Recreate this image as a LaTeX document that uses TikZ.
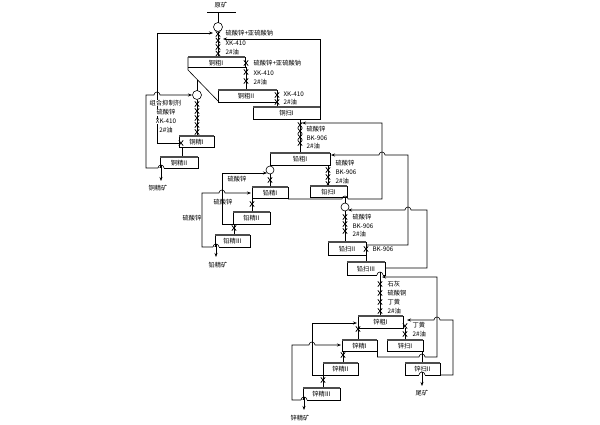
\documentclass[tikz,border=0pt]{standalone}
\usepackage{fontspec}
\newfontfamily\cjk{Noto Sans CJK SC}
\usetikzlibrary{arrows.meta}
\tikzset{
 ln/.style={line width=0.6pt},
 arr/.style={ln,-{Stealth[length=4pt,width=3pt]}},
 bar/.style={line width=1.8pt,black!70},
 lbl/.style={font=\cjk\fontsize{6.3}{7}\selectfont,inner sep=0.4pt},
 wl/.style={lbl,fill=white},
 xm/.pic={\draw[line width=0.75pt] (-2.2,-2.6)--(2.2,2.6) (-2.2,2.6)--(2.2,-2.6);},
}
\newcommand\fcell[6]{%
 \draw[ln] (#2,#3) rectangle (#4,#5);
 \draw[bar] (#2,#3) -- (#4,#3);
 \node[lbl] (#1) at ({(#2+#4)/2},{(#3+#5)/2+0.5}) {#6};}
\begin{document}
\begin{tikzpicture}[x=1pt,y=-1pt]
\useasboundingbox (0,0) rectangle (600,424);
% ---------- copper -------------
\node[lbl] (ore) at (221,5) {原矿};
\draw[ln] (207,12) -- (236,12);
\draw[ln] (218,12) -- (218,22.5);
\draw[ln] (218,27) circle (4.5);
\draw[ln] (218,31.5) -- (218,57);
\foreach \y in {34,40.5,47,53.5} \pic at (218,\y) {xm};
\node[lbl,anchor=west] (r1a) at (225,33) {硫酸锌+亚硫酸钠};
\node[lbl,anchor=west] (r1b) at (225,43) {XK-410};
\node[lbl,anchor=west] (r1c) at (225,52) {2\#油};
\draw[arr] (157,143) -- (157,33) -- (213,33);
\draw[arr] (320,107) -- (320,39) -- (223,39);
% Cu rougher I
\draw[ln] (188,57) -- (188,70) -- (219,102);
\draw[ln] (188,67) -- (245,67) -- (245,57);
\draw[bar] (188,57) -- (245,57);
\node[lbl] (cuR1) at (216,63) {铜粗I};
\draw[ln] (246,67) -- (246,90);
\foreach \y in {63,72,81} \pic at (246,\y) {xm};
\node[lbl,anchor=west] (r2a) at (253,63) {硫酸锌+亚硫酸钠};
\node[lbl,anchor=west] (r2b) at (253,73) {XK-410};
\node[lbl,anchor=west] (r2c) at (253,82) {2\#油};
% Cu rougher II
\draw[ln] (218,90) -- (218,102) -- (277,102) -- (277,90);
\draw[bar] (218,90) -- (277,90);
\node[lbl] (cuR2) at (246,96) {铜粗II};
\draw[ln] (277,102) -- (277,107);
\foreach \y in {95,102} \pic at (277,\y) {xm};
\node[lbl,anchor=west] (r3a) at (283,94) {XK-410};
\node[lbl,anchor=west] (r3b) at (283,102) {2\#油};
% Cu scavenger I
\fcell{cuS1}{253}{107}{320}{119}{铜扫I}
% Cu cleaners
\draw[ln] (197,80) -- (197,90.5);
\draw[ln] (197,95) circle (4.5);
\draw[arr] (160,168) -- (146,168) -- (146,95) -- (154,95) arc[start angle=180,end angle=360,radius=3] -- (192,95);
\draw[ln] (197,99.5) -- (197,136);
\foreach \y in {104,111,118,125,132} \pic at (197,\y) {xm};
\node[wl,anchor=west] (r4a) at (149,103) {组合抑制剂};
\node[wl] (r4b) at (166,112.5) {硫酸锌};
\node[wl] (r4c) at (166,121.5) {XK-410};
\node[wl] (r4d) at (166,130.5) {2\#油};
\draw[ln] (157,143) -- (179,143);
\fcell{cuC1}{179}{136}{214}{147}{铜精I}
\pic at (181,143) {xm};
\draw[ln] (182,147) -- (182,157);
\fcell{cuC2}{160}{157}{198}{168}{铜精II}
\draw[ln,white,line width=1pt] (158,168) -- (164,168);
\draw[ln] (158,168) arc[start angle=180,end angle=360,radius=3];
\draw[arr] (161,165) -- (161,181);
\node[lbl] (cuconc) at (158,188) {铜精矿};
% ---------- lead -------------
\draw[ln] (300,119) -- (300,153);
\foreach \y in {125,131,137,143} \pic at (300,\y) {xm};
\node[lbl,anchor=west] (p1a) at (306,129) {硫酸锌};
\node[lbl,anchor=west] (p1b) at (306,138) {BK-906};
\node[lbl,anchor=west] (p1c) at (306,146) {2\#油};
\fcell{pbR1}{270}{153}{330}{165}{铅粗I}
\draw[ln] (270,165) -- (270,166);
\draw[ln] (270,170) circle (4);
\draw[ln] (270,174) -- (270,187);
\pic at (270,180) {xm};
\draw[ln] (328,165) -- (328,186);
\foreach \y in {170,177,184} \pic at (328,\y) {xm};
\node[lbl,anchor=west] (p2a) at (335,163) {硫酸锌};
\node[lbl,anchor=west] (p2b) at (335,172) {BK-906};
\node[lbl,anchor=west] (p2c) at (335,181) {2\#油};
\fcell{pbC1}{252}{187}{288}{198}{铅精I}
\fcell{pbS1}{310}{186}{347}{197}{铅扫I}
\draw[arr] (288,199) -- (342,199) arc[start angle=180,end angle=360,radius=3] -- (382,199) -- (382,123) -- (302,123);
\draw[ln] (345,197) -- (345,203);
\draw[ln] (345,207) circle (4);
\draw[ln] (345,211) -- (345,242);
\foreach \y in {217,224,231} \pic at (345,\y) {xm};
\node[lbl,anchor=west] (p3a) at (352,217) {硫酸锌};
\node[lbl,anchor=west] (p3b) at (352,226) {BK-906};
\node[lbl,anchor=west] (p3c) at (352,234) {2\#油};
\draw[arr] (366,245) -- (408,245) -- (408,155) -- (385,155) arc[start angle=0,end angle=-180,radius=3] -- (331,155);
\fcell{pbS2}{328}{242}{366}{255}{铅扫II}
\pic at (366,249) {xm};
\node[lbl,anchor=west] (p4a) at (372,249) {BK-906};
\draw[ln] (366,249) -- (366,262);
\draw[arr] (385,268) -- (427,268) -- (427,210) -- (411,210) arc[start angle=0,end angle=-180,radius=3] -- (348,210);
\fcell{pbS3}{347}{262}{385}{275}{铅扫III}
% lead cleaners
\draw[arr] (233,224) -- (222,224) -- (222,173) -- (267,173);
\node[lbl] (p5) at (237,179) {硫酸锌};
\draw[ln] (252,198) -- (252,212);
\pic at (252,204) {xm};
\fcell{pbC2}{233}{212}{270}{224}{铅精II}
\draw[arr] (215,247) -- (202,247) -- (202,193) -- (219,193) arc[start angle=180,end angle=360,radius=3] -- (251,193);
\node[lbl] (p6) at (223,202) {硫酸锌};
\node[lbl] (p7) at (192,218) {硫酸锌};
\draw[ln] (234,224) -- (234,235);
\pic at (234,228) {xm};
\fcell{pbC3}{215}{235}{250}{247}{铅精III}
\draw[ln,white,line width=1pt] (213,247) -- (219,247);
\draw[ln] (213,247) arc[start angle=180,end angle=360,radius=3];
\draw[arr] (216,244) -- (216,257);
\node[lbl] (pbconc) at (218,265) {铅精矿};
% ---------- zinc -------------
\draw[ln,white,line width=1pt] (377,275) -- (383,275);
\draw[ln] (377,275) arc[start angle=180,end angle=360,radius=3];
\draw[ln] (380,272) -- (380,316);
\foreach \y in {284,293,302,311} \pic at (380,\y) {xm};
\node[lbl,anchor=west] (z1a) at (387,284) {石灰};
\node[lbl,anchor=west] (z1b) at (387,293) {硫酸铜};
\node[lbl,anchor=west] (z1c) at (387,302) {丁黄};
\node[lbl,anchor=west] (z1d) at (387,311) {2\#油};
\fcell{znR1}{358}{316}{403}{328}{锌粗I}
\draw[arr] (377,357) -- (419,357) arc[start angle=180,end angle=360,radius=3] -- (437,357) -- (437,277) -- (382,277);
\draw[ln] (405,328) -- (405,340);
\foreach \y in {326,334} \pic at (405,\y) {xm};
\node[lbl,anchor=west] (z2a) at (412,325) {丁黄};
\node[lbl,anchor=west] (z2b) at (412,334) {2\#油};
\draw[arr] (440,375) -- (453,375) -- (453,320) -- (440,320) arc[start angle=0,end angle=-180,radius=3] -- (407,320);
\fcell{znS1}{387}{340}{423}{351}{锌扫I}
\draw[ln] (422,351) -- (422,363);
\fcell{znS2}{405}{363}{440}{375}{锌扫II}
\draw[ln,white,line width=1pt] (419,375) -- (425,375);
\draw[ln] (419,375) arc[start angle=180,end angle=360,radius=3];
\draw[arr] (422,372) -- (422,386);
\node[lbl] (tail) at (422,393) {尾矿};
% zinc cleaners
\draw[ln] (358,328) -- (358,340);
\pic at (358,329) {xm};
\draw[arr] (323,375) -- (312,375) -- (312,323) -- (357,323);
\fcell{znC1}{342}{340}{377}{351}{锌精I}
\draw[ln] (377,351) -- (377,357);
\draw[ln] (343,351) -- (343,363);
\pic at (343,355) {xm};
\draw[arr] (303,400) -- (292,400) -- (292,345) -- (309,345) arc[start angle=180,end angle=360,radius=3] -- (341,345);
\fcell{znC2}{323}{363}{358}{375}{锌精II}
\draw[ln] (323,375) -- (323,388);
\pic at (323,380) {xm};
\fcell{znC3}{303}{388}{340}{400}{锌精III}
\draw[ln,white,line width=1pt] (301,400) -- (307,400);
\draw[ln] (301,400) arc[start angle=180,end angle=360,radius=3];
\draw[arr] (304,397) -- (304,410);
\node[lbl] (znconc) at (300,418) {锌精矿};
\end{tikzpicture}
\end{document}
